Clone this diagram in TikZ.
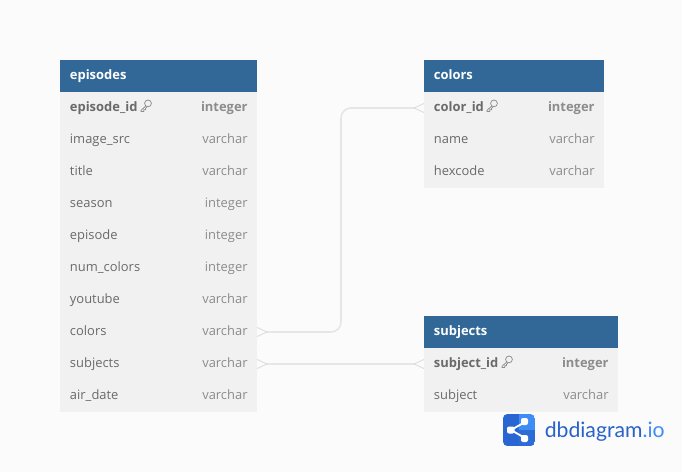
\documentclass[tikz,border=0pt]{standalone}
\usepackage{fontspec}
\setmainfont{Open Sans}
\newfontfamily\logofont{Lato}
\definecolor{bgc}{HTML}{FBFBFB}
\definecolor{headc}{HTML}{316897}
\definecolor{rowc}{HTML}{F1F1F1}
\definecolor{linec}{HTML}{E6E6E6}
\definecolor{tipc}{HTML}{DADADA}
\definecolor{namec}{HTML}{6A6A6A}
\definecolor{typec}{HTML}{8C8C8C}
\definecolor{logod}{HTML}{2A66D2}
\definecolor{logol}{HTML}{3F8CF5}
\definecolor{logot}{HTML}{2A62C8}
\tikzset{
 x=0.75pt,y=-0.75pt,
 headbox/.style={fill=headc,draw=none,inner sep=0,outer sep=0,anchor=north west,minimum height=24pt},
 rowbox/.style={fill=rowc,draw=none,inner sep=0,outer sep=0,anchor=north west,minimum height=24pt},
 headtxt/.style={anchor=base west,inner sep=0,text=white,font=\fontsize{9.7pt}{12pt}\selectfont\bfseries},
 fname/.style={anchor=base west,inner sep=0,text=namec,font=\fontsize{9.7pt}{12pt}\selectfont},
 ftype/.style={anchor=base east,inner sep=0,text=typec,font=\fontsize{9.7pt}{12pt}\selectfont},
 pkname/.style={fname,font=\fontsize{9.7pt}{12pt}\selectfont\bfseries},
 pktype/.style={ftype,font=\fontsize{9.7pt}{12pt}\selectfont\bfseries},
 conn/.style={draw=linec,line width=1.2pt},
 crow/.style={draw=tipc,line width=0.6pt,fill=none},
 keyicon/.style={draw=typec,line width=0.55pt,fill=none},
}
% \tblrow{name}{x}{y top}{width}{text}{type}{name style}{type style}
\newcommand{\tblrow}[8]{%
 \node[rowbox,minimum width=#4*0.75pt] (#1) at (#2,#3) {};
 \node[#7] (#1n) at (#2+9.7,#3+19) {#5};
 \node[#8] (#1t) at (#2+#4-9.2,#3+19) {#6};
}
\newcommand{\keyat}[2]{%
 \begin{scope}[shift={(#1,#2)}]
  \draw[keyicon] (2,-2.6) circle[radius=3.4];
  \draw[keyicon] (-0.2,-0.2) -- (-5,4.4) -- (-5,5.4) -- (-2.2,5.4) -- (-2.2,3.8) -- (-0.6,3.8) -- (-0.6,2.4) -- (0.8,1);
 \end{scope}
}
\begin{document}
\begin{tikzpicture}
\useasboundingbox (0,0) rectangle (682,472);
\fill[bgc] (0,0) rectangle (682,472);
% episodes
\node[headbox,minimum width=197*0.75pt] (eh) at (60,60) {};
\node[headtxt] (ehn) at (69.7,79) {episodes};
\tblrow{e1}{60}{92}{197}{episode\_id}{integer}{pkname}{pktype}
\tblrow{e2}{60}{124}{197}{image\_src}{varchar}{fname}{ftype}
\tblrow{e3}{60}{156}{197}{title}{varchar}{fname}{ftype}
\tblrow{e4}{60}{188}{197}{season}{integer}{fname}{ftype}
\tblrow{e5}{60}{220}{197}{episode}{integer}{fname}{ftype}
\tblrow{e6}{60}{252}{197}{num\_colors}{integer}{fname}{ftype}
\tblrow{e7}{60}{284}{197}{youtube}{varchar}{fname}{ftype}
\tblrow{e8}{60}{316}{197}{colors}{varchar}{fname}{ftype}
\tblrow{e9}{60}{348}{197}{subjects}{varchar}{fname}{ftype}
\tblrow{e10}{60}{380}{197}{air\_date}{varchar}{fname}{ftype}
\keyat{146}{106}
% colors
\node[headbox,minimum width=180*0.75pt] (ch) at (424,60) {};
\node[headtxt] (chn) at (433.7,79) {colors};
\tblrow{c1}{424}{92}{180}{color\_id}{integer}{pkname}{pktype}
\tblrow{c2}{424}{124}{180}{name}{varchar}{fname}{ftype}
\tblrow{c3}{424}{156}{180}{hexcode}{varchar}{fname}{ftype}
\keyat{492}{106}
% subjects
\node[headbox,minimum width=194*0.75pt] (sh) at (424,316) {};
\node[headtxt] (shn) at (433.7,335) {subjects};
\tblrow{s1}{424}{348}{194}{subject\_id}{integer}{pkname}{pktype}
\tblrow{s2}{424}{380}{194}{subject}{varchar}{fname}{ftype}
\keyat{507}{362}
% connectors
\coordinate (a) at (e8.east);
\coordinate (b) at (c1.west);
\coordinate (c) at (e9.east);
\coordinate (d) at (s1.west);
\draw[conn,rounded corners=7.5pt] (a) ++(10,0) -- (341,332) -- (341,108) -- ([xshift=-10*0.75pt]b);
\draw[conn] ([xshift=10*0.75pt]c) -- ([xshift=-10*0.75pt]d);
\draw[crow] ([yshift=3.4pt]a) -- ([xshift=7.5pt]a) -- ([yshift=-3.4pt]a);
\draw[crow] ([yshift=3.4pt]c) -- ([xshift=7.5pt]c) -- ([yshift=-3.4pt]c);
\draw[crow] ([yshift=3.4pt]b) -- ([xshift=-7.5pt]b) -- ([yshift=-3.4pt]b);
\draw[crow] ([yshift=3.4pt]d) -- ([xshift=-7.5pt]d) -- ([yshift=-3.4pt]d);
% logo
\begin{scope}
 \clip[rounded corners=3.5pt] (503,414) rectangle (535,446);
 \fill[logol] (503,414) rectangle (535,446);
 \fill[logod] (503,414) rectangle (519,446);
 \fill[logod!85!logol] (519,430) rectangle (535,446);
\end{scope}
\draw[white,line width=1.4pt] (511,430) -- (525,422) (511,430) -- (525,438);
\fill[white,rounded corners=1.5pt] (507,426.5) rectangle (514.5,433.5);
\fill[white,rounded corners=1.5pt] (521,418) rectangle (528,425);
\fill[white,rounded corners=1.5pt] (521,435) rectangle (528,442);
\node[anchor=base west,inner sep=0,font=\logofont\fontsize{15.9pt}{18pt}\selectfont,text=logot] (logo) at (544.5,437) {dbdiagram\textcolor{logol}{.io}};
\end{tikzpicture}
\end{document}
